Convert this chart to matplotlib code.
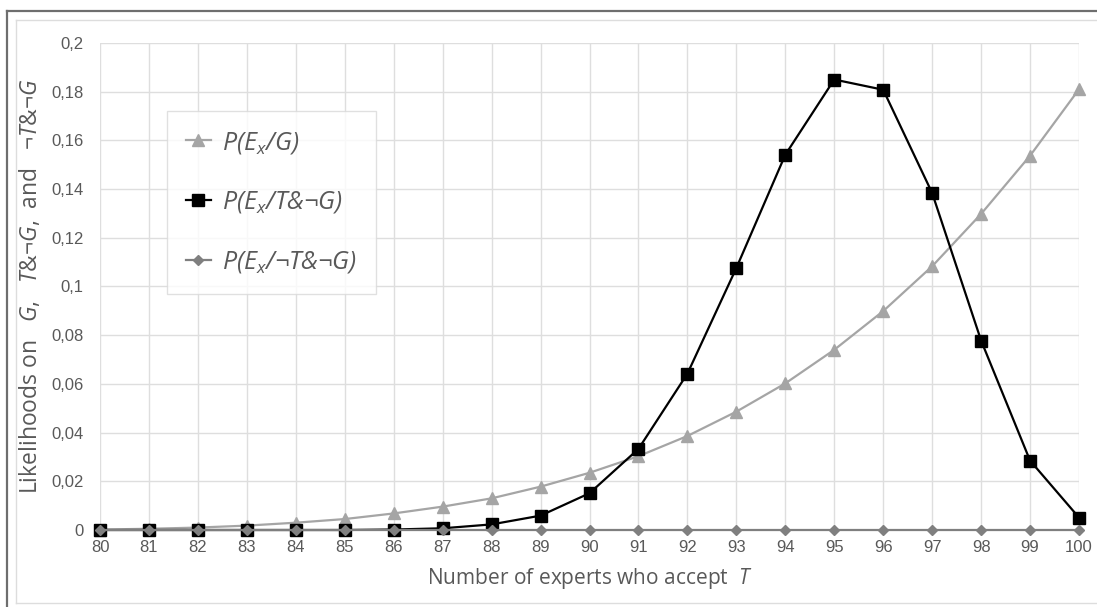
import matplotlib
matplotlib.use("Agg")
import matplotlib.pyplot as plt
from matplotlib.lines import Line2D
from matplotlib.ticker import FuncFormatter

plt.rcParams['font.family'] = ['Open Sans', 'DejaVu Sans']
plt.rcParams['mathtext.fontset'] = 'custom'
plt.rcParams['mathtext.it'] = 'Open Sans:italic'
plt.rcParams['mathtext.rm'] = 'Open Sans:italic'
plt.rcParams['mathtext.fallback'] = 'stixsans'

experts = list(range(80, 101))
p_g = [0.0002, 0.0005, 0.0010, 0.0018, 0.0030, 0.0045, 0.0068, 0.0096, 0.0130, 0.0178,
       0.0235, 0.0303, 0.0386, 0.0486, 0.0602, 0.0740, 0.0899, 0.1083, 0.1298, 0.1537, 0.1810]
p_t_ng = [0.0, 0.0, 0.0, 0.0, 0.0, 0.0, 0.0002, 0.0007, 0.0023, 0.0059,
          0.0151, 0.0333, 0.0642, 0.1076, 0.1541, 0.1850, 0.1808, 0.1384, 0.0778, 0.0285, 0.0051]
p_nt_ng = [0.0] * 21

labels = ['P($E_x$/G)', 'P($E_x$/T&¬G)', 'P($E_x$/¬T&¬G)']
yticks = [0, 0.02, 0.04, 0.06, 0.08, 0.1, 0.12, 0.14, 0.16, 0.18, 0.2]

W, H = 1097, 607
fig = plt.figure(figsize=(W / 100, H / 100), dpi=100)
ax = fig.add_axes([100 / W, (H - 530) / H, (1079 - 100) / W, (530 - 43) / H])

ax.plot(experts, p_g, color='#A5A5A5', lw=1.6, marker='^', ms=8.5, mec='#A5A5A5', mfc='#A5A5A5',
        label=labels[0], clip_on=False, zorder=3)
ax.plot(experts, p_t_ng, color='#000000', lw=1.6, marker='s', ms=8, mec='#000000', mfc='#000000',
        label=labels[1], clip_on=False, zorder=4)
ax.plot(experts, p_nt_ng, color='#7F7F7F', lw=1.6, marker='D', ms=5, mec='#7F7F7F', mfc='#7F7F7F',
        label=labels[2], clip_on=False, zorder=5)

ax.set_xlim(80, 100)
ax.set_ylim(0, 0.2)
ax.set_xticks(experts)
ax.set_yticks(yticks)
ax.yaxis.set_major_formatter(FuncFormatter(lambda v, p: ('%g' % round(v, 4)).replace('.', ',')))
for s in ax.spines.values():
    s.set_visible(False)
ax.grid(True, color='#DEDEDE', lw=1.0, zorder=0)
ax.set_axisbelow(True)
ax.tick_params(axis='both', length=0, labelsize=12, labelcolor='#595959')
ax.tick_params(axis='y', pad=12)
ax.tick_params(axis='x', pad=7)
for t in ax.get_xticklabels() + ax.get_yticklabels():
    t.set_fontfamily(['Liberation Sans', 'DejaVu Sans'])

ax.set_xlabel('Number of experts who accept  $T$', fontsize=15, color='#595959', labelpad=8)
ax.set_ylabel('Likelihoods on   $G$,   $T$&¬$G$,  and   ¬$T$&¬$G$', fontsize=16.5,
              color='#595959', labelpad=6)

leg = ax.legend(loc='upper left', bbox_to_anchor=((167 - 100) / 979, (530 - 111) / 487),
                borderaxespad=0, frameon=True, fancybox=False, edgecolor='#D9D9D9',
                prop={'family': ['Open Sans', 'DejaVu Sans'], 'style': 'italic', 'size': 18},
                labelspacing=1.35, handlelength=1.0, handletextpad=0.45,
                borderpad=0.75, labelcolor='#595959')
leg.get_frame().set_linewidth(1.0)
leg.set_zorder(10)

# figure borders
fig.add_artist(Line2D([7 / W, 1.0], [1 - 11 / H, 1 - 11 / H], color='#6E6E6E', lw=1.6))
fig.add_artist(Line2D([7 / W, 7 / W], [0, 1 - 11 / H], color='#6E6E6E', lw=1.6))
fig.add_artist(Line2D([16 / W, 1.0], [1 - 20 / H, 1 - 20 / H], color='#DDDDDD', lw=1.0))
fig.add_artist(Line2D([16 / W, 16 / W], [1 - 603 / H, 1 - 20 / H], color='#DDDDDD', lw=1.0))
fig.add_artist(Line2D([16 / W, 1.0], [1 - 603 / H, 1 - 603 / H], color='#DDDDDD', lw=1.0))

fig.savefig('out.png', dpi=100)
